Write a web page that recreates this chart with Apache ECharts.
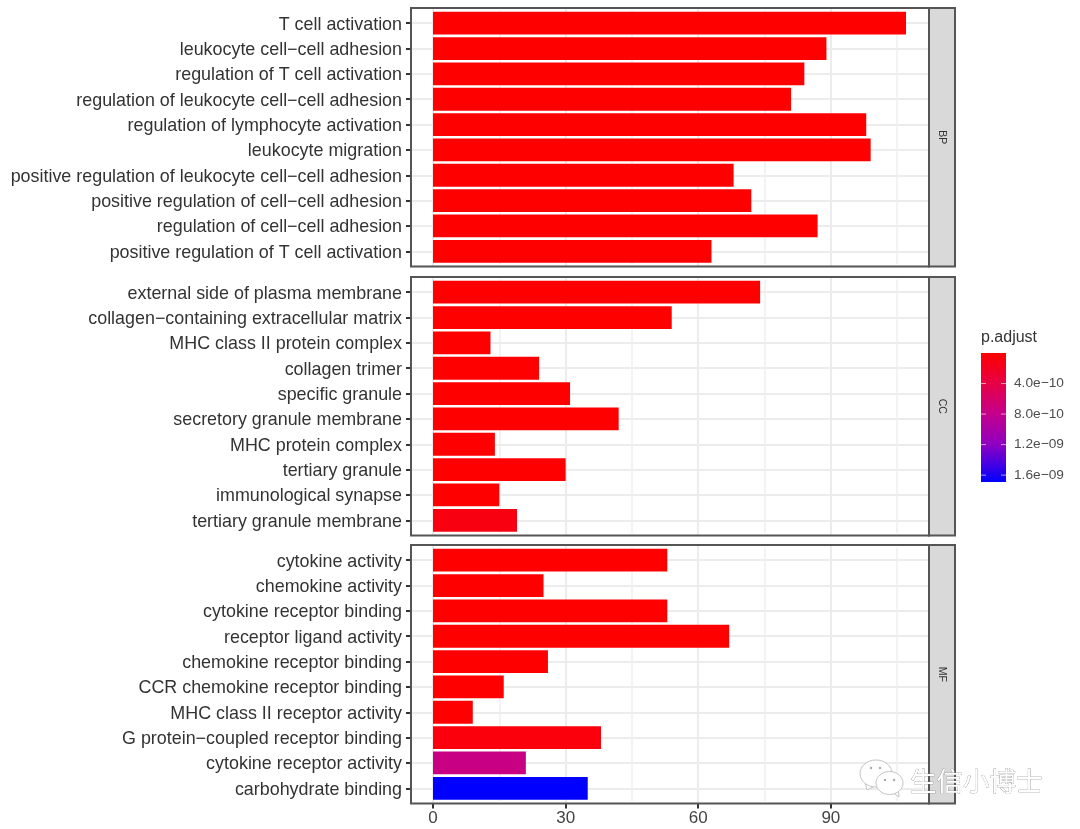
<!DOCTYPE html>
<html><head><meta charset="utf-8">
<style>html,body{margin:0;padding:0;background:#fff}#c{width:1080px;height:829px;filter:blur(0.45px)}</style>
<script src="https://cdn.jsdelivr.net/npm/echarts@6/dist/echarts.min.js"></script></head>
<body><div id="c"></div>
<script>
const bpTerms=["T cell activation","leukocyte cell−cell adhesion","regulation of T cell activation","regulation of leukocyte cell−cell adhesion","regulation of lymphocyte activation","leukocyte migration","positive regulation of leukocyte cell−cell adhesion","positive regulation of cell−cell adhesion","regulation of cell−cell adhesion","positive regulation of T cell activation"];
const bpCounts=[107,89,84,81,98,99,68,72,87,63];
const bpP=[0,0,0,0,0,0,0,0,0,0];
const ccTerms=["external side of plasma membrane","collagen−containing extracellular matrix","MHC class II protein complex","collagen trimer","specific granule","secretory granule membrane","MHC protein complex","tertiary granule","immunological synapse","tertiary granule membrane"];
const ccCounts=[74,54,13,24,31,42,14,30,15,19];
const ccP=[0,0,0,0,0,0,0,0,0,1.0e-10];
const mfTerms=["cytokine activity","chemokine activity","cytokine receptor binding","receptor ligand activity","chemokine receptor binding","CCR chemokine receptor binding","MHC class II receptor activity","G protein−coupled receptor binding","cytokine receptor activity","carbohydrate binding"];
const mfCounts=[53,25,53,67,26,16,9,38,21,35];
const mfP=[0,0,0,0,0,0,0,0.7e-10,7.5e-10,1.69e-9];
const stripNames=["BP","CC","MF"];
const xMajor=[0,30,60,90];
const xMinor=[15,45,75,105];
const legendValues=[4e-10,8e-10,1.2e-9,1.6e-9];
const legendLabels=["4.0e−10","8.0e−10","1.2e−09","1.6e−09"];
const pMax=1.69e-9;
const rampColors=["#ff0000","#e60045","#c4008c","#8f00c2","#0000ff"];
const rampStops=[0,0.237,0.473,0.71,1];

function hex(c){return [1,3,5].map(i=>parseInt(c.substr(i,2),16));}
function ramp(p){const t=p/pMax;let i=0;while(i<rampStops.length-2&&t>rampStops[i+1])i++;
  const f=(t-rampStops[i])/(rampStops[i+1]-rampStops[i]);const a=hex(rampColors[i]),b=hex(rampColors[i+1]);
  return 'rgb('+a.map((v,k)=>Math.round(v+(b[k]-v)*f)).join(',')+')';}

const FONT='"Liberation Sans",Arial,sans-serif';
const panelL=411,panelW=518,panelH=258.5,stripW=26;
const panelTops=[8,277,545];
const step=panelH/10.2;
const xMin=-4.98,xMax=112.2;
const BORDER='#555555',TEXT='#333333';
const groups=[[bpTerms,bpCounts,bpP],[ccTerms,ccCounts,ccP],[mfTerms,mfCounts,mfP]];
const grid=[],xAxis=[],yAxis=[],series=[],graphic=[];
groups.forEach((g,i)=>{
  const top=panelTops[i];
  // frame grid: gridlines and x axis
  grid.push({left:panelL,top:top,width:panelW,height:panelH,show:false});
  xAxis.push({gridIndex:2*i,type:'value',min:xMin,max:xMax,axisLine:{show:false,onZero:false},
    axisTick:{show:i===2,length:5,customValues:xMajor,lineStyle:{color:TEXT,width:2}},
    axisLabel:{show:i===2,customValues:xMajor,color:'#444',fontFamily:FONT,fontSize:17,margin:6},
    splitLine:{show:true,lineStyle:{color:'#ececec',width:2}}});
  yAxis.push({gridIndex:2*i,type:'value',inverse:true,min:0.4,max:10.6,axisLine:{show:false,onZero:false},
    axisTick:{show:false,customValues:[1,2,3,4,5,6,7,8,9,10]},axisLabel:{show:false},
    splitLine:{show:true,lineStyle:{color:'#ececec',width:2}}});
  // data grid: bars and category labels
  grid.push({left:panelL,top:top+0.1*step,width:panelW,height:10*step});
  xAxis.push({gridIndex:2*i+1,type:'value',min:xMin,max:xMax,axisLine:{show:false,onZero:false},
    axisTick:{show:false,customValues:xMinor},axisLabel:{show:false},
    splitLine:{show:true,lineStyle:{color:'#efefef',width:1.5}}});
  yAxis.push({gridIndex:2*i+1,type:'category',inverse:true,data:g[0],axisLine:{show:false,onZero:false},
    axisTick:{show:true,alignWithLabel:true,length:5,lineStyle:{color:TEXT,width:2}},
    axisLabel:{color:TEXT,fontFamily:FONT,fontSize:17.9,margin:9,interval:0,verticalAlign:'top',lineHeight:3},splitLine:{show:false}});
  series.push({type:'bar',xAxisIndex:2*i+1,yAxisIndex:2*i+1,barWidth:'90%',z:3,
    data:g[1].map((v,k)=>({value:v,itemStyle:{color:ramp(g[2][k])}}))});
  // panel border and facet strip
  graphic.push({type:'rect',z:10,shape:{x:panelL,y:top,width:panelW,height:panelH},
    style:{fill:'none',stroke:BORDER,lineWidth:2}});
  graphic.push({type:'rect',z:11,shape:{x:panelL+panelW,y:top,width:stripW,height:panelH},
    style:{fill:'#d9d9d9',stroke:BORDER,lineWidth:2}});
  graphic.push({type:'text',z:12,x:panelL+panelW+stripW/2,y:top+panelH/2,rotation:-Math.PI/2,
    style:{text:stripNames[i],font:'10.5px '+FONT,fill:TEXT,align:'center',verticalAlign:'middle'}});
});
// colourbar legend
const lx=981,ly=353,lw=25,lh=129;
graphic.push({type:'text',x:lx,y:338,style:{text:'p.adjust',font:'16px '+FONT,fill:TEXT,align:'left',verticalAlign:'middle'}});
graphic.push({type:'rect',shape:{x:lx,y:ly,width:lw,height:lh},style:{fill:{type:'linear',x:0,y:0,x2:0,y2:1,
  colorStops:rampColors.map((c,i)=>({offset:rampStops[i],color:c}))}}});
legendValues.forEach((v,i)=>{const y=ly+lh*v/pMax;
  graphic.push({type:'line',shape:{x1:lx,y1:y,x2:lx+5,y2:y},style:{stroke:'#ffffff99',lineWidth:1}});
  graphic.push({type:'line',shape:{x1:lx+lw-5,y1:y,x2:lx+lw,y2:y},style:{stroke:'#ffffff99',lineWidth:1}});
  graphic.push({type:'text',x:1014,y:y,style:{text:legendLabels[i],font:'13.7px '+FONT,fill:'#4d4d4d',align:'left',verticalAlign:'middle'}});
});
// watermark
const ell=(cx,cy,rx,ry,z)=>({type:'ellipse',z:z,shape:{cx:cx,cy:cy,rx:rx,ry:ry},style:{fill:'#fff',stroke:'#c4c4c4',lineWidth:1}});
const tail=(pts,z)=>({type:'polygon',z:z,shape:{points:pts},style:{fill:'#fff',stroke:'#c4c4c4',lineWidth:1}});
graphic.push(tail([[865,782],[867,790],[875,786]],20));
graphic.push(ell(876,773.5,16,13.5,20));
graphic.push(tail([[892,792],[899,797],[898,788]],21));
graphic.push(ell(889.5,783,13.5,11.5,21));
[[871,768],[880,768],[885,780],[894,780]].forEach(p=>graphic.push({type:'circle',z:22,shape:{cx:p[0],cy:p[1],r:1.2},style:{fill:'#aaa'}}));
graphic.push({type:'text',z:22,x:910,y:781,style:{text:'生信小博士',font:'26.5px "Noto Sans CJK SC"',fill:'#ffffff',stroke:'#777777',lineWidth:0.5,align:'left',verticalAlign:'middle'}});

const chart=echarts.init(document.getElementById('c'),null,{renderer:'canvas'});
chart.setOption({animation:false,backgroundColor:'#fff',grid,xAxis,yAxis,series,graphic});
</script></body></html>
